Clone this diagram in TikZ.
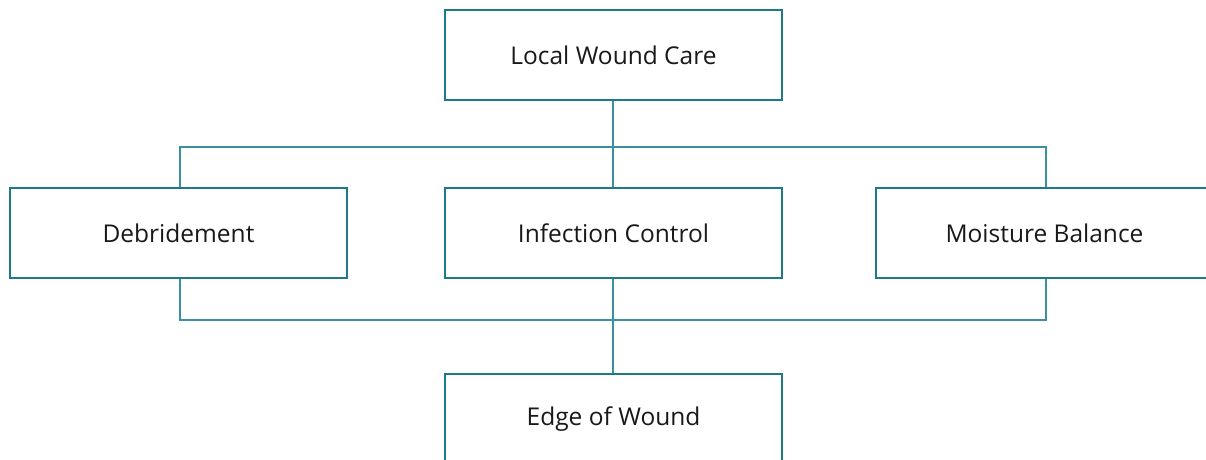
\documentclass[tikz,border=0pt]{standalone}
\usepackage{fontspec}
\setmainfont{Open Sans}
\definecolor{teal1}{HTML}{1E7A8A}
\definecolor{teal2}{HTML}{3A90A0}
\begin{document}
\begin{tikzpicture}[x=1pt,y=-1pt,
  box/.style={draw=teal1,line width=1.4pt,fill=white,minimum width=337pt,minimum height=90pt,inner sep=0pt,font=\fontsize{24.5}{28}\selectfont,text=black!90},
  link/.style={draw=teal2,line width=1.5pt}]
\useasboundingbox (0,0) rectangle (1206,459);
\begin{scope}
\clip (0,0) rectangle (1206,459);
\node[box] (top) at (613.5,55) {Local Wound Care};
\node[box] (deb) at (178.5,233) {Debridement};
\node[box] (inf) at (613.5,233) {Infection Control};
\node[box] (moi) at (1044.5,233) {Moisture Balance};
\node[box] (edge) at (613.5,419) {Edge of Wound};
\coordinate (m1) at (613,147);
\coordinate (m2) at (613,320);
\coordinate (t1) at (180,147);
\coordinate (t2) at (1046,147);
\coordinate (b1) at (180,320);
\coordinate (b2) at (1046,320);
\draw[link] (m1 |- top.south) -- (m1 |- inf.north);
\draw[link] (t1 |- deb.north) -- (t1) -- (t2) -- (t2 |- moi.north);
\draw[link] (b1 |- deb.south) -- (b1) -- (b2) -- (b2 |- moi.south);
\draw[link] (m2 |- inf.south) -- (m2 |- edge.north);
\end{scope}
\end{tikzpicture}
\end{document}
